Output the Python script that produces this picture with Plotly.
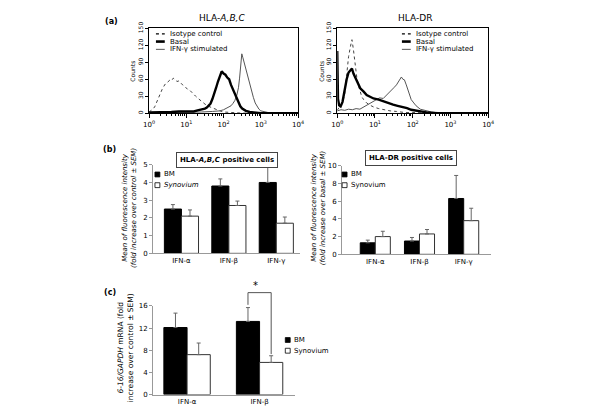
import numpy as np
import plotly.graph_objects as go

W, H = 600, 418

# ---------------- data ----------------
# (a) flow cytometry histograms: log10 fluorescence and counts
abc_iso_log = [0.00,0.05,0.10,0.15,0.20,0.25,0.30,0.35,0.40,0.45,0.50,0.55,0.60,0.65,0.70,0.75,0.80,0.85,0.90,0.95,1.00,1.05,1.10,1.15,1.20,1.25,1.30,1.35,1.40,1.45,1.50,1.60,1.70,1.80,1.90,2.00,2.20,2.50,3.00,3.50,4.00]
abc_iso_cnt = [2,4,7,11,19,27,36,42,48,53,55,58,57,62,59,56,57,53,50,48,45,41,40,36,33,30,27,24,21,19,16,12,9,6,4,2,1,0,0,0,0]
abc_bas_log = [0.00,0.20,0.40,0.60,0.80,1.00,1.10,1.20,1.30,1.40,1.50,1.55,1.60,1.65,1.70,1.75,1.80,1.85,1.90,1.95,2.00,2.05,2.10,2.15,2.20,2.25,2.30,2.35,2.40,2.45,2.50,2.60,2.70,2.80,3.00,3.50,4.00]
abc_bas_cnt = [1,1,2,2,3,3,4,3,5,6,8,10,13,17,25,34,45,56,65,74,70,68,63,60,50,42,33,25,18,12,8,4,2,1,0,0,0]
abc_ifn_log = [0.00,0.50,1.00,1.40,1.70,1.90,2.00,2.10,2.20,2.25,2.30,2.35,2.40,2.43,2.46,2.49,2.52,2.55,2.60,2.65,2.70,2.75,2.80,2.85,2.90,2.95,3.00,3.10,3.20,3.40,4.00]
abc_ifn_cnt = [1,1,1,2,3,4,6,9,13,17,22,30,45,62,85,105,98,90,82,68,55,40,28,18,12,7,4,2,1,0,0]

dr_iso_log = [0.00,0.05,0.10,0.15,0.20,0.25,0.30,0.35,0.39,0.43,0.48,0.52,0.57,0.61,0.65,0.70,0.78,0.87,0.96,1.10,1.22,1.40,1.57,1.80,2.00,2.50,4.00]
dr_iso_cnt = [5,10,15,20,35,70,100,118,130,112,80,62,47,38,29,24,18,14,11,8,6,4,3,1,1,0,0]
dr_bas_log = [0.00,0.005,0.02,0.05,0.09,0.14,0.19,0.25,0.30,0.35,0.39,0.43,0.48,0.54,0.61,0.70,0.78,0.87,0.96,1.10,1.22,1.35,1.48,1.60,1.74,1.85,1.96,2.10,2.25,2.40,2.60,4.00]
dr_bas_cnt = [110,60,25,14,12,20,40,60,72,76,79,70,62,52,44,38,32,29,26,24,21,19,15,13,11,9,6,4,2,1,0,0]
dr_ifn_log = [0.00,0.10,0.20,0.30,0.40,0.50,0.60,0.70,0.80,0.87,0.95,1.04,1.12,1.22,1.30,1.35,1.43,1.50,1.57,1.62,1.65,1.70,1.74,1.78,1.83,1.87,1.92,1.96,2.03,2.09,2.20,2.35,2.50,2.70,3.00,4.00]
dr_ifn_cnt = [4,6,5,7,6,8,7,11,14,18,21,24,27,26,32,35,41,45,50,56,60,64,60,59,50,41,32,24,18,13,7,4,2,1,0,0]

hist_ticks = [1, 10, 100, 1000, 10000]
hist_ticktext = ["10<sup>0</sup>", "10<sup>1</sup>", "10<sup>2</sup>", "10<sup>3</sup>", "10<sup>4</sup>"]
count_ticks = [0, 30, 60, 90, 120, 150]

# (b) mean fluorescence intensity
ifn_cats = ["IFN-α", "IFN-β", "IFN-γ"]
abc_bm = [2.5, 3.8, 4.0]
abc_bm_err = [0.25, 0.4, 1.0]
abc_syn = [2.1, 2.7, 1.7]
abc_syn_err = [0.35, 0.25, 0.35]
dr_bm = [1.3, 1.5, 6.3]
dr_bm_err = [0.3, 0.4, 2.6]
dr_syn = [2.0, 2.3, 3.8]
dr_syn_err = [0.6, 0.5, 1.4]

# (c) 6-16/GAPDH mRNA
mrna_cats = ["IFN-α", "IFN-β"]
mrna_bm = [12.1, 13.2]
mrna_bm_err = [2.6, 2.5]
mrna_syn = [7.2, 5.8]
mrna_syn_err = [2.1, 1.2]

# ---------------- helpers ----------------
def px(x):
    return x / W

def py(y):
    return 1 - y / H

FONT = "DejaVu Sans"
fig = go.Figure()
annotations = []
shapes = []

# ---------------- (a) histograms ----------------
hist_specs = [
    ("x", "y", abc_iso_log, abc_iso_cnt, abc_bas_log, abc_bas_cnt, abc_ifn_log, abc_ifn_cnt),
    ("x2", "y2", dr_iso_log, dr_iso_cnt, dr_bas_log, dr_bas_cnt, dr_ifn_log, dr_ifn_cnt),
]
for xa, ya, il, ic, bl, bc, fl, fc in hist_specs:
    fig.add_trace(go.Scatter(x=np.power(10.0, il), y=ic, mode="lines", xaxis=xa, yaxis=ya,
                             line=dict(color="#444", width=1, dash="dot"), showlegend=False,
                             hoverinfo="skip"))
    fig.add_trace(go.Scatter(x=np.power(10.0, fl), y=fc, mode="lines", xaxis=xa, yaxis=ya,
                             line=dict(color="#555", width=1), showlegend=False, hoverinfo="skip"))
    fig.add_trace(go.Scatter(x=np.power(10.0, bl), y=bc, mode="lines", xaxis=xa, yaxis=ya,
                             line=dict(color="black", width=2.4), showlegend=False, hoverinfo="skip"))

# ---------------- (b), (c) bars ----------------
def add_bars(cats, bm, bme, syn, syne, xa, ya, bw):
    fig.add_trace(go.Bar(x=cats, y=bm, xaxis=xa, yaxis=ya, width=bw, offset=-bw,
                         marker=dict(color="black", line=dict(color="black", width=1)),
                         error_y=dict(type="data", symmetric=False, array=bme,
                                      arrayminus=[0] * len(bme), color="#666", thickness=1, width=2),
                         showlegend=False, hoverinfo="skip"))
    fig.add_trace(go.Bar(x=cats, y=syn, xaxis=xa, yaxis=ya, width=bw, offset=0,
                         marker=dict(color="white", line=dict(color="#333", width=1)),
                         error_y=dict(type="data", symmetric=False, array=syne,
                                      arrayminus=[0] * len(syne), color="#666", thickness=1, width=2),
                         showlegend=False, hoverinfo="skip"))

add_bars(ifn_cats, abc_bm, abc_bm_err, abc_syn, abc_syn_err, "x3", "y3", 0.36)
add_bars(ifn_cats, dr_bm, dr_bm_err, dr_syn, dr_syn_err, "x4", "y4", 0.34)
add_bars(mrna_cats, mrna_bm, mrna_bm_err, mrna_syn, mrna_syn_err, "x5", "y5", 0.32)

# ---------------- axes ----------------
hx = dict(type="log", range=[0, 4], tickvals=hist_ticks, ticktext=hist_ticktext,
          ticks="outside", ticklen=4, tickcolor="black", showline=True, linecolor="black",
          linewidth=1, mirror=True, showgrid=False, zeroline=False,
          tickfont=dict(family=FONT, size=7, color="black"),
          minor=dict(ticks="outside", ticklen=2, tickcolor="black",
                     tickvals=[m * 10 ** e for e in range(4) for m in range(2, 10)], showgrid=False))
hy = dict(range=[0, 150], tickvals=count_ticks, ticks="outside", ticklen=3, tickcolor="black",
          showline=True, linecolor="black", linewidth=1, mirror=True, showgrid=False,
          zeroline=False, tickangle=-90, tickfont=dict(family=FONT, size=6, color="black"))

bx = dict(showline=True, linecolor="#999", linewidth=1, ticks="", showgrid=False, zeroline=False,
          tickfont=dict(family=FONT, size=7, color="black"))
by = dict(showline=True, linecolor="#999", linewidth=1, ticks="outside", ticklen=3,
          tickcolor="#999", showgrid=False, zeroline=False,
          tickfont=dict(family=FONT, size=7, color="black"))

c_range = [-0.47, 1.49]
c_yr = [0, 16]
fig.update_layout(
    width=W, height=H, margin=dict(l=0, r=0, t=0, b=0),
    paper_bgcolor="white", plot_bgcolor="white", barmode="group", hovermode=False,
    xaxis=dict(hx, domain=[px(146), px(298)], anchor="y"),
    yaxis=dict(hy, domain=[py(109), py(22)], anchor="x"),
    xaxis2=dict(hx, domain=[px(338), px(492)], anchor="y2"),
    yaxis2=dict(hy, domain=[py(109), py(22)], anchor="x2"),
    xaxis3=dict(bx, domain=[px(150), px(300)], anchor="y3", range=[-0.6, 2.5]),
    yaxis3=dict(by, domain=[py(253), py(162)], anchor="x3", range=[0, 5], dtick=1),
    xaxis4=dict(bx, domain=[px(343), px(495)], anchor="y4", range=[-0.75, 2.62]),
    yaxis4=dict(by, domain=[py(254), py(163)], anchor="x4", range=[0, 10], dtick=2),
    xaxis5=dict(bx, domain=[px(150), px(295)], anchor="y5", range=c_range),
    yaxis5=dict(by, domain=[py(398), py(307)], anchor="x5", range=c_yr, dtick=4),
)

# ---------------- text ----------------
def ann(x, y, text, size=8, angle=0, xanchor="center", **kw):
    d = dict(x=px(x), y=py(y), xref="paper", yref="paper", text=text, showarrow=False,
             textangle=angle, xanchor=xanchor, yanchor="middle",
             font=dict(family=FONT, size=size, color="black"))
    d.update(kw)
    annotations.append(d)

ann(108, 15, "<b>(a)</b>", 8)
ann(106, 146, "<b>(b)</b>", 8)
ann(106, 293, "<b>(c)</b>", 8)
ann(220, 11, "HLA-<i>A,B,C</i>", 9)
ann(417, 11, "HLA-DR", 9)
ann(129, 66, "Counts", 6, -90)
ann(322, 66, "Counts", 6, -90)

# histogram legends
def line_legend(x0, y, text, dash, width, color):
    shapes.append(dict(type="line", xref="paper", yref="paper", x0=px(x0), x1=px(x0 + 9),
                       y0=py(y), y1=py(y), line=dict(color=color, width=width, dash=dash)))
    ann(x0 + 12, y, text, 7, xanchor="left")

for x0 in (153, 404):
    line_legend(x0, 27.5, "Isotype control", "dot", 1.2, "black")
    line_legend(x0, 35.5, "Basal", "solid", 2.6, "black")
    line_legend(x0, 43.5, "IFN-γ stimulated", "solid", 1, "#555")

# bar legends
def square_legend(x0, y, text, fill, italic=False):
    shapes.append(dict(type="rect", xref="paper", yref="paper", x0=px(x0), x1=px(x0 + 5),
                       y0=py(y + 2.5), y1=py(y - 2.5), fillcolor=fill,
                       line=dict(color="black", width=0.8)))
    ann(x0 + 7, y, "<i>%s</i>" % text if italic else text, 7, xanchor="left")

square_legend(152, 172, "BM", "black")
square_legend(152, 183, "Synovium", "white", italic=True)
square_legend(343, 172, "BM", "black")
square_legend(343, 183, "Synovium", "white")
square_legend(285, 342, "BM", "black")
square_legend(285, 353, "Synovium", "white")

# title boxes
ann(225, 157, "<b>HLA-<i>A,B,C</i> positive cells</b>", 7, bordercolor="#444", borderwidth=1,
    borderpad=3, bgcolor="white")
ann(413, 155, "<b>HLA-DR positive cells</b>", 7, bordercolor="#444", borderwidth=1,
    borderpad=3, bgcolor="white")

# y-axis titles
ann(126, 206, "<i>Mean of fluorescence intensity<br>(fold increase over control ± SEM)</i>", 7, -90)
ann(319, 206, "<i>Mean of fluorescence intensity<br>(fold increase over basal ± SEM)</i>", 7, -90)
ann(122, 350, "<i>6-16/GAPDH</i> mRNA (fold<br>increase over control ± SEM)", 7.5, -90)

# significance bracket in panel (c), positioned from data
bw_c = 0.32
def cx(v):
    return (v - c_range[0]) / (c_range[1] - c_range[0])
def cy(v):
    return (v - c_yr[0]) / (c_yr[1] - c_yr[0])
xl = cx(1 - bw_c / 2)
xr = cx(1 + bw_c / 2)
ytop = cy(18.4)
yl = cy(mrna_bm[1] + mrna_bm_err[1] + 0.5)
yr = cy(mrna_syn[1] + mrna_syn_err[1] + 0.3)
for (a0, b0, a1, b1) in [(xl, yl, xl, ytop), (xl, ytop, xr, ytop), (xr, ytop, xr, yr)]:
    shapes.append(dict(type="line", xref="x5 domain", yref="y5 domain", x0=a0, y0=b0, x1=a1, y1=b1,
                       line=dict(color="#555", width=1)))
annotations.append(dict(x=(xl + xr) / 2, y=ytop, xref="x5 domain", yref="y5 domain", text="*",
                        showarrow=False, yanchor="bottom", font=dict(family=FONT, size=10, color="black")))

fig.update_layout(annotations=annotations, shapes=shapes)
fig.write_html("out.html", config={"displayModeBar": False, "staticPlot": True},
               post_script="document.body.style.margin='0';document.body.style.padding='0';")
